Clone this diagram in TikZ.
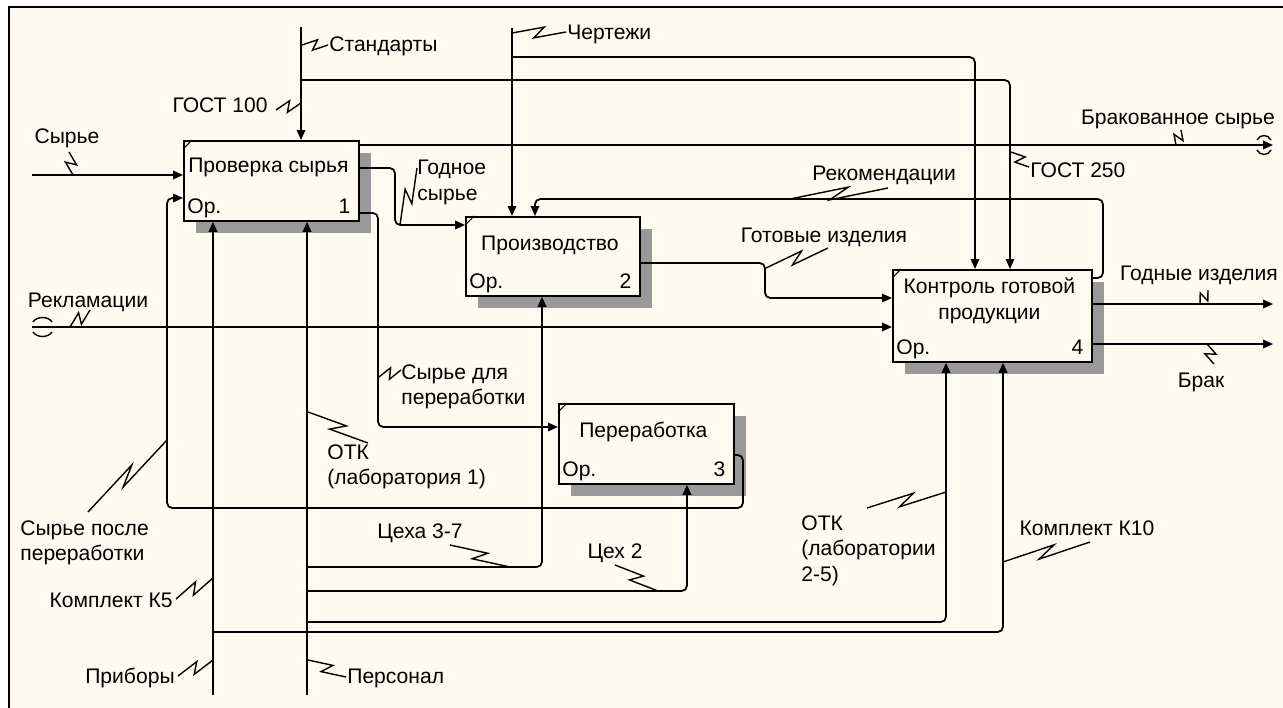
\documentclass[tikz,border=0pt]{standalone}
\usepackage{fontspec}
\setmainfont{Liberation Sans}
\usetikzlibrary{arrows.meta,calc,shadows}
\definecolor{paper}{HTML}{FFFAF0}
\newcommand{\lnk}[2]{\draw[lnk] (#1) -- ($(#1)!.6!(#2)!3pt!90:(#2)$) -- ($(#1)!.4!(#2)!3pt!-90:(#2)$) -- (#2);}

\begin{document}
\begin{tikzpicture}[x=.2mm,y=-.2mm,
  arr/.style={line width=1pt,-{Triangle[length=2mm,width=1.7mm]}},
  rc/.style={rounded corners=3pt},
  lnk/.style={line width=.8pt},
  tun/.style={line width=.8pt},
  box/.style={draw,line width=1pt,fill=paper,anchor=north west,inner sep=0pt,
    drop shadow={shadow xshift=2.4mm,shadow yshift=-2.4mm,fill=black!40,opacity=1}},
  lbl/.style={inner sep=0pt,font=\fontsize{12}{14.5}\selectfont,align=left}]
\path[use as bounding box] (0,0) rectangle (1283,708);
\fill[paper] (9,7) rectangle (1283,708);
\draw[line width=1.7pt] (9,708) -- (9,7) -- (1283,7);

% functions
\node[box,minimum width=35mm,minimum height=16mm] (check) at (183,140) {};
\node[box,minimum width=34.8mm,minimum height=15.8mm] (prod) at (465,216) {};
\node[box,minimum width=35mm,minimum height=16mm] (recyc) at (558,403) {};
\node[box,minimum width=39.8mm,minimum height=18.4mm] (qc) at (892,269) {};
\node[lbl,anchor=base] (check-t) at ($(check.north)+(-3,32)$) {Проверка сырья};
\node[lbl,anchor=base] (prod-t) at ($(prod.north)+(-3,34)$) {Производство};
\node[lbl,anchor=base] (recyc-t) at ($(recyc.north)+(-3,34)$) {Переработка};
\node[lbl,align=center] (qc-t) at ($(qc.north)+(-3,32)$) {Контроль готовой\\продукции};
\foreach \b/\n in {check/1,prod/2,recyc/3,qc/4}{
  \draw[line width=.6pt] ($(\b.north west)+(0,9)$) -- ($(\b.north west)+(9,0)$);
  \node[lbl,anchor=base west] (\b-op) at ($(\b.south west)+(4,-8)$) {Ор.};
  \node[lbl,anchor=base east] (\b-n) at ($(\b.south east)+(-9,-8)$) {\n};
}

% free ends
\coordinate (raw) at (32,175);
\coordinate (recl) at (32,327);
\coordinate (std) at (301,27);
\coordinate (stdb) at (301,80);
\coordinate (drw) at (512,28);
\coordinate (drwb) at (512,57);
\coordinate (rej) at (1273,145);
\coordinate (good) at (1273,304);
\coordinate (scrap) at (1273,344);
\coordinate (dev) at (213,695);
\coordinate (devb) at (213,632);
\coordinate (pers) at (307,695);
\coordinate (persa) at (307,567);
\coordinate (persb) at (307,591);
\coordinate (persc) at (307,622);

% inputs
\draw[arr] (raw) -- (raw -| check.west);
\draw[arr] (recl) -- (recl -| qc.west);
\draw[tun] (33,322) .. controls (37,316) and (48,316) .. (52,322)
  (33,332) .. controls (37,338) and (48,338) .. (52,332);
% controls
\draw[arr] (std) -- (std |- check.north);
\draw[arr,rc] (stdb) -| (1010,0 |- qc.north);
\draw[arr] (drw) -- (drw |- prod.north);
\draw[arr,rc] (drwb) -| (975,0 |- qc.north);
% outputs
\draw[arr] (check.east |- 0,145) -- (rej);
\draw[tun] (1257,140) .. controls (1260,134) and (1268,134) .. (1271,140)
  (1257,150) .. controls (1260,156) and (1268,156) .. (1271,150);
\draw[arr,rc] (check.east |- 0,168) -| (395,225) -- (prod.west |- 0,225);
\draw[arr,rc] (check.east |- 0,213) -| (378,427) -- (recyc.west |- 0,427);
\draw[arr,rc] (prod.east |- 0,263) -| (765,298) -- (qc.west |- 0,298);
\draw[arr,rc] (qc.east |- 0,278) -| (1103,199) -| (535,0 |- prod.north);
\draw[arr] (qc.east |- 0,304) -- (good);
\draw[arr] (qc.east |- 0,344) -- (scrap);
\draw[arr,rc] (recyc.east |- 0,455) -| (743,508) -| (167,198) -- (check.west |- 0,198);
% mechanisms
\draw[arr] (dev) -- (dev |- check.south);
\draw[arr,rc] (devb) -| (1003,0 |- qc.south);
\draw[arr] (pers) -- (pers |- check.south);
\draw[arr,rc] (persa) -| (542,0 |- prod.south);
\draw[arr,rc] (persb) -| (687,0 |- recyc.south);
\draw[arr,rc] (persc) -| (946,0 |- qc.south);

% labels
\node[lbl,anchor=base] (l-raw) at (67,143) {Сырье};
\lnk{73,175}{69,152}
\node[lbl,anchor=base west] (l-std) at (329,51) {Стандарты};
\lnk{302,45}{328,45}
\node[lbl,anchor=base east] (l-g100) at (268,112) {ГОСТ 100};
\lnk{301,103}{276,110}
\node[lbl,anchor=base west] (l-drw) at (567,39) {Чертежи};
\lnk{512,33}{566,32}
\node[lbl,anchor=north west] (l-fit) at (417,160) {Годное\\сырье};
\lnk{400,225}{417,168}
\node[lbl,anchor=north west] (l-torec) at (401,364) {Сырье для\\переработки};
\lnk{379,377}{401,370}
\node[lbl,anchor=base] (l-recl) at (88,307) {Рекламации};
\lnk{70,327}{90,310}
\node[lbl,anchor=base west] (l-rec) at (812,180) {Рекомендации};
\lnk{790,199}{888,188}
\node[lbl,anchor=base] (l-ready) at (824,242) {Готовые изделия};
\lnk{766,268}{828,248}
\node[lbl,anchor=base west] (l-g250) at (1030,177) {ГОСТ 250};
\lnk{1011,152}{1029,167}
\node[lbl,anchor=base] (l-rej) at (1178,124) {Бракованное сырье};
\lnk{1176,145}{1181,130}
\node[lbl,anchor=base] (l-good) at (1199,280) {Годные изделия};
\lnk{1200,304}{1208,290}
\node[lbl,anchor=base] (l-scrap) at (1201,387) {Брак};
\lnk{1207,344}{1214,364}
\node[lbl,anchor=north west] (l-back) at (20,520) {Сырье после\\переработки};
\lnk{167,440}{88,512}
\node[lbl,anchor=north west] (l-otk1) at (327,444) {ОТК\\(лаборатория 1)};
\lnk{308,412}{368,443}
\node[lbl,anchor=base east] (l-k5) at (173,607) {Комплект К5};
\lnk{213,578}{176,599}
\node[lbl,anchor=base east] (l-dev) at (175,683) {Приборы};
\lnk{213,660}{178,676}
\node[lbl,anchor=base west] (l-pers) at (347,683) {Персонал};
\lnk{308,660}{346,677}
\node[lbl,anchor=base] (l-sh37) at (420,538) {Цеха 3-7};
\lnk{510,567}{450,545}
\node[lbl,anchor=base] (l-sh2) at (615,558) {Цех 2};
\lnk{658,591}{615,565}
\node[lbl,anchor=north west] (l-otk2) at (801,515) {ОТК\\(лаборатории\\2-5)};
\lnk{946,492}{867,508}
\node[lbl,anchor=base] (l-k10) at (1087,535) {Комплект К10};
\lnk{1003,562}{1090,542}
\end{tikzpicture}
\end{document}
